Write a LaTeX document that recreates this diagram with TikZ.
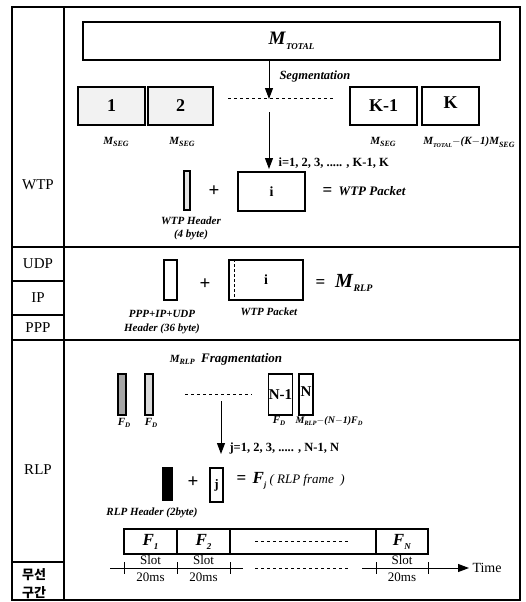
\documentclass[tikz,border=0pt]{standalone}
\usepackage{fontspec}
\setmainfont{Liberation Serif}
\newfontfamily\kor{Noto Sans CJK KR}
\usetikzlibrary{positioning,arrows.meta,calc}
\newcommand{\Ms}[2]{\textbf{\textit{M}}\raisebox{-.5ex}{\fontsize{#1}{#1}\selectfont\textbf{\textit{#2}}}}
\newcommand{\Fs}[2]{\textbf{\textit{F}}\raisebox{-.5ex}{\fontsize{#1}{#1}\selectfont\textbf{\textit{#2}}}}
\tikzset{
  blk/.style={draw, line width=1.3pt, inner sep=0pt},
  layer/.style={font=\fontsize{15}{17}\selectfont},
  capt/.style={font=\fontsize{11}{13}\selectfont\bfseries\itshape, align=center},
  idx/.style={font=\fontsize{12.5}{14}\selectfont\bfseries},
  num/.style={font=\fontsize{18}{20}\selectfont\bfseries},
  plus/.style={font=\fontsize{19}{19}\selectfont\bfseries},
  arr/.style={-{Triangle[length=11pt,width=8pt]}, line width=1pt},
}

\begin{document}
\begin{tikzpicture}[x=1pt,y=-1pt]
    \useasboundingbox (0,0) rectangle (526,602);
    % table
    \draw[line width=1.5pt] (12,7) rectangle (520,600);
    \draw[line width=1.2pt] (64,7) -- (64,600);
    \draw[line width=1.2pt] (12,247) -- (520,247);
    \draw[line width=1.2pt] (12,340) -- (520,340);
    \foreach \y in {281,315,562} \draw[line width=1.2pt] (12,\y) -- (64,\y);
    \node[layer] (wtp) at (38,185) {WTP}; %label
    \node[layer] (udp) at (38,264) {UDP}; %label
    \node[layer] (ip) at (38,298) {IP}; %label
    \node[layer] (ppp) at (38,327.5) {PPP}; %label
    \node[layer] (rlp) at (38,470) {RLP}; %label
    \node[font=\kor\bfseries\fontsize{13}{18}\selectfont, align=center] (air) at (34,584) {무선\\구간}; %label

    % WTP
    \node[blk, minimum width=417pt, minimum height=38pt] (mtot) at (291.5,41) {\fontsize{19}{21}\selectfont\Ms{9}{TOTAL}};
    \coordinate (segtip) at (269,99);
    \draw[arr] (mtot.south -| segtip) -- (segtip);
    \node[font=\fontsize{12.5}{14}\selectfont\bfseries\itshape, anchor=west] (segm) at (276,76) {Segmentation};
    \node[blk, fill=black!5, minimum width=67pt, minimum height=38pt, num] (s1) at (111.5,106) {1};
    \node[blk, fill=black!5, minimum width=65pt, minimum height=38pt, num] (s2) at (180.5,106) {2};
    \draw[dashed] (228,98) -- (335,98);
    \node[blk, minimum width=67pt, minimum height=38pt, num] (sk1) at (383.5,106) {K-1};
    \node[blk, minimum width=57pt, minimum height=38pt, num] (sk) at (450.5,106) {\raisebox{6pt}{K}};
    \node[capt] (ms1) at (116,142) {\Ms{8}{SEG}};
    \node[capt] (ms2) at (182,142) {\Ms{8}{SEG}};
    \node[capt] (ms3) at (383,142) {\Ms{8}{SEG}};
    \node[capt] (ms4) at (469,142) {\Ms{6}{TOTAL}$-$(\textit{K}$-$1)\Ms{8}{SEG}};
    \coordinate (iA) at (269,112);
    \coordinate (iB) at (269,169);
    \draw[arr] (iA) -- (iB);
    \node[idx, anchor=west] (irange) at (275,163) {i=1, 2, 3, ..... , K-1, K};
    \node[blk, fill=black!10, minimum width=6pt, minimum height=39pt] (wh) at (187,190.5) {};
    \node[plus] (p1) at (214,191) {+};
    \node[blk, minimum width=67pt, minimum height=39pt, font=\fontsize{14}{15}\selectfont\bfseries] (pi) at (271.5,191.5) {i};
    \node[font=\fontsize{13}{14}\selectfont\bfseries\itshape, anchor=west] (wp) at (319,191) {{\fontsize{17}{17}\selectfont\upshape =}\ \ WTP Packet};
    \node[capt] (whl) at (191,228.5) {WTP Header\\(4 byte)};

    % UDP, IP, PPP
    \node[blk, minimum width=13pt, minimum height=40pt] (uh) at (170.5,280) {};
    \node[plus] (p2) at (205,284) {+};
    \node[blk, minimum width=74pt, minimum height=40pt, font=\fontsize{14}{15}\selectfont\bfseries] (up) at (266,280) {i};
    \draw[densely dashed] ($(up.north west)+(6,0)$) -- ($(up.south west)+(6,0)$);
    \node[anchor=west] (mrlp) at (312,283) {{\fontsize{17}{17}\selectfont\bfseries =}\quad{\fontsize{20}{22}\selectfont\Ms{10}{RLP}}};
    \node[capt, font=\fontsize{11}{14}\selectfont\bfseries\itshape] (uhl) at (162,322) {PPP+IP+UDP\\Header (36 byte)};
    \node[capt] (upl) at (269,312) {WTP Packet};

    % RLP
    \node[font=\fontsize{13}{15}\selectfont\bfseries\itshape] (frag) at (226,359) {{\fontsize{11}{13}\selectfont\Ms{8}{RLP}}\ \ Fragmentation};
    \node[blk, fill=black!35, minimum width=8pt, minimum height=41pt] (f1) at (122,394.5) {};
    \node[blk, fill=black!15, minimum width=8pt, minimum height=41pt] (f2) at (149,394.5) {};
    \draw[dashed] (185,394) -- (252,394);
    \node[blk, minimum width=15pt, minimum height=41pt, font=\fontsize{15}{17}\selectfont\bfseries] (fn1) at (280.5,394.5) {N-1};
    \node[blk, minimum width=14pt, minimum height=41pt, font=\fontsize{15}{17}\selectfont\bfseries] (fn) at (306,394.5) {\raisebox{5pt}{N}};
    \node[capt] (fd1) at (124,423) {\Fs{7}{D}};
    \node[capt] (fd2) at (151,423) {\Fs{7}{D}};
    \node[capt] (fd3) at (279,421) {\Fs{7}{D}};
    \node[capt, font=\fontsize{10}{12}\selectfont\bfseries\itshape] (fd4) at (329,421) {\Ms{6.5}{RLP}$-$(\textit{N}$-$1)\Fs{6.5}{D}};
    \coordinate (jA) at (221,401);
    \coordinate (jB) at (221,454);
    \draw[arr] (jA) -- (jB);
    \node[idx, anchor=west] (jrange) at (226,448) {j=1, 2, 3, ..... , N-1, N};
    \node[blk, fill=black, minimum width=9pt, minimum height=32pt] (rh) at (167.5,484) {};
    \node[plus] (p3) at (193,482) {+};
    \node[blk, minimum width=13pt, minimum height=34pt, font=\fontsize{13}{14}\selectfont\bfseries] (rj) at (216.5,485) {j};
    \node[anchor=west, font=\fontsize{13}{15}\selectfont\itshape] (fj) at (233,481) {{\fontsize{17}{17}\selectfont\bfseries\upshape =}\ \ {\fontsize{17}{19}\selectfont\Fs{8}{j}}\ ( RLP\ frame\ \ )};
    \node[capt] (rhl) at (152,513) {RLP Header (2byte)};

    % frames
    \node[blk, minimum width=53pt, minimum height=25pt, font=\fontsize{17}{19}\selectfont] (fr1) at (150.5,541.5) {\Fs{9}{1}};
    \node[blk, minimum width=53pt, minimum height=25pt, font=\fontsize{17}{19}\selectfont] (fr2) at (203.5,541.5) {\Fs{9}{2}};
    \node[blk, minimum width=146pt, minimum height=25pt] (frd) at (303,541.5) {};
    \draw[dashed] (255,541) -- (348,541);
    \node[blk, minimum width=52pt, minimum height=25pt, font=\fontsize{17}{19}\selectfont] (frn) at (402,541.5) {\Fs{9}{N}};

    % time axis
    \coordinate (t0) at (110,568);
    \coordinate (t1) at (243,568);
    \coordinate (t2) at (362,568);
    \draw[line width=1pt] (t0) -- (t1);
    \draw[dashed] (255,568) -- (348,568);
    \node[anchor=west, font=\fontsize{14}{16}\selectfont] (time) at (469,568) {Time};
    \draw[arr] (t2) -- (t2 -| time.west);
    \foreach \x in {124,177,230,376,428} \draw[line width=1pt] (\x,562) -- (\x,574);
    \foreach \x/\n in {150.5/a,203.5/b,402/c} {
        \node[font=\fontsize{13}{15}\selectfont] (slot\n) at (\x,560) {Slot};
        \node[font=\fontsize{13}{15}\selectfont] (ms\n) at (\x,577.5) {20ms};
    }
\end{tikzpicture}
\end{document}
